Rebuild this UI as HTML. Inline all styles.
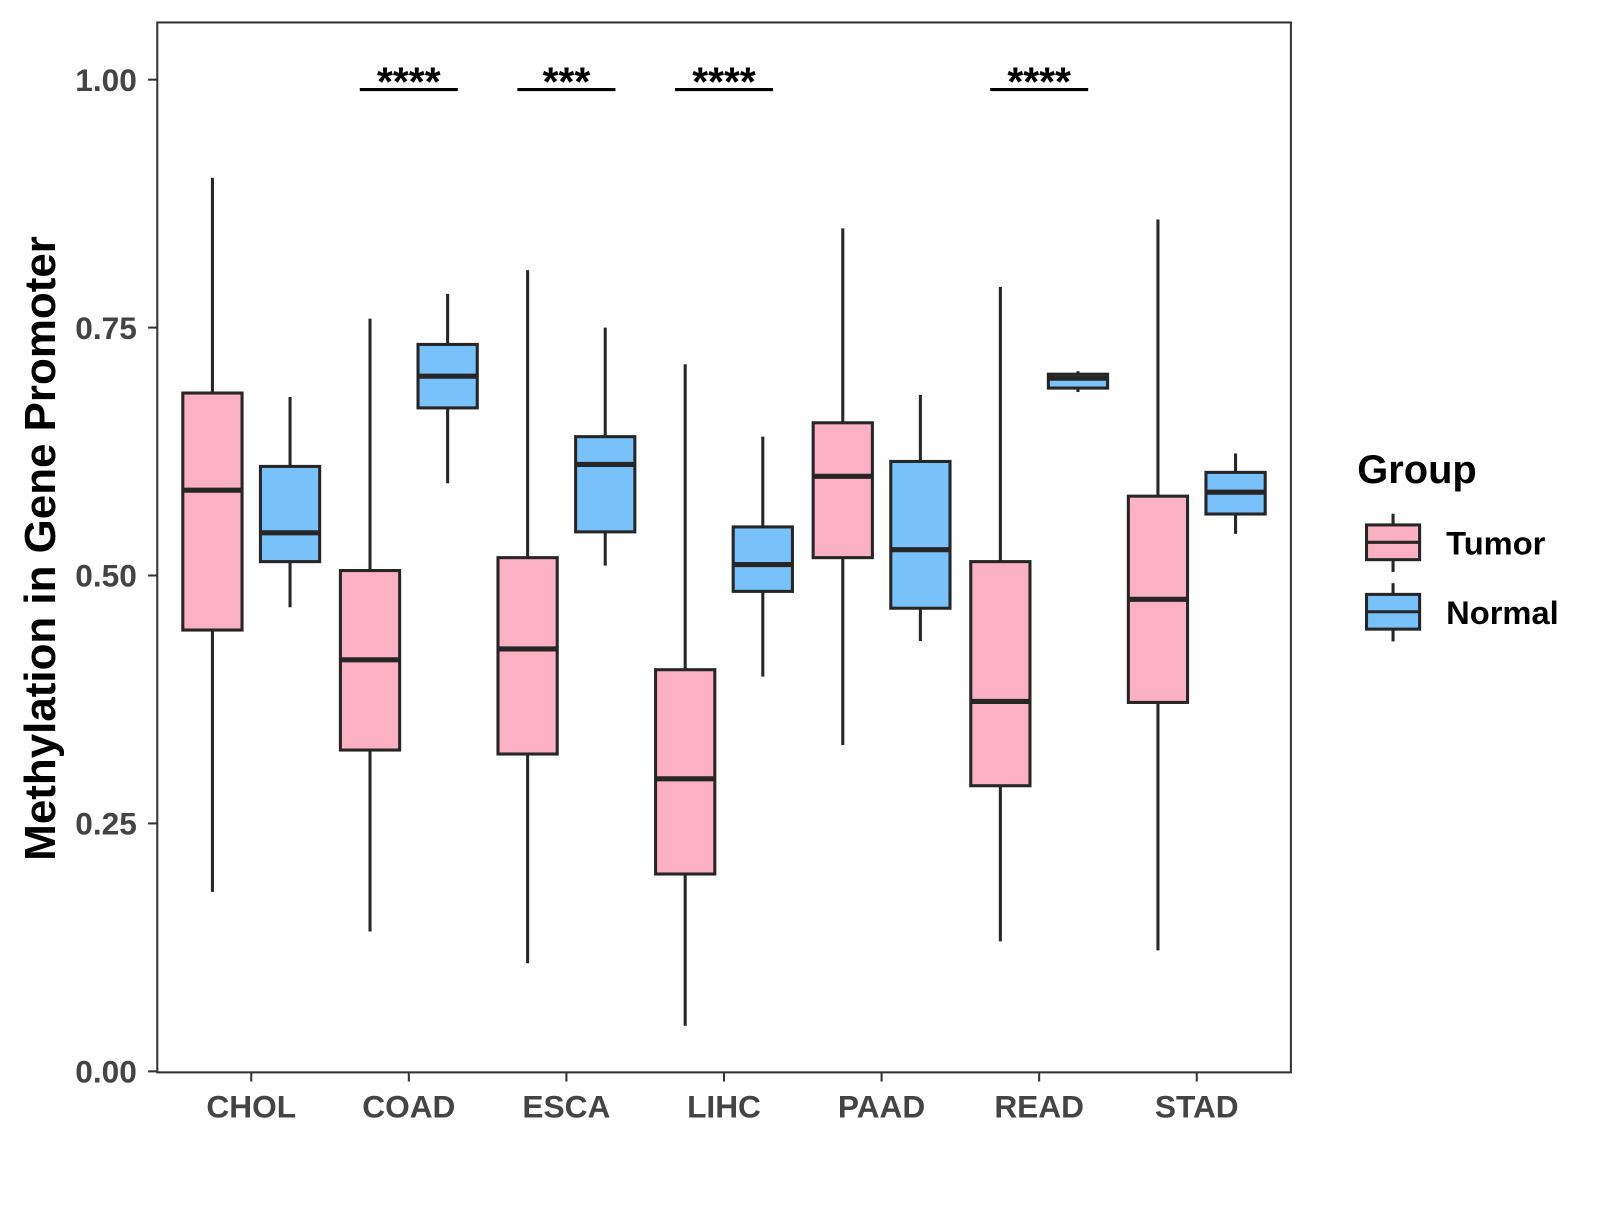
<!DOCTYPE html>
<html><head><meta charset="utf-8"><style>
body{margin:0;background:#fff}
svg text{font-family:"Liberation Sans",Arial,sans-serif;font-weight:bold}
</style></head><body>
<svg id="chart" width="1600" height="1200" viewBox="0 0 1600 1200" xmlns="http://www.w3.org/2000/svg">
<rect x="0" y="0" width="1600" height="1200" fill="#fff"/>
<g transform="scale(1.0213)">
<g id="plot"></g>
<rect x="154" y="22" width="1110" height="1028" fill="none" stroke="#333" stroke-width="2"/>
<text transform="translate(54,537) rotate(-90)" text-anchor="middle" font-size="43" fill="#000">Methylation in Gene Promoter</text>
<g>
<text x="1329" y="473" font-size="39" fill="#000">Group</text>
<g>
<line x1="1364" y1="503" x2="1364" y2="560" stroke="#262626" stroke-width="3"/>
<rect x="1338" y="514" width="52" height="34" fill="#FCB0C3" stroke="#262626" stroke-width="3"/>
<line x1="1338" y1="531" x2="1390" y2="531" stroke="#262626" stroke-width="3"/>
<text x="1416" y="543" font-size="32" fill="#000">Tumor</text></g>
<g>
<line x1="1364" y1="571" x2="1364" y2="628" stroke="#262626" stroke-width="3"/>
<rect x="1338" y="582" width="52" height="34" fill="#78C1FA" stroke="#262626" stroke-width="3"/>
<line x1="1338" y1="599" x2="1390" y2="599" stroke="#262626" stroke-width="3"/>
<text x="1416" y="611" font-size="32" fill="#000">Normal</text></g>
</g>
</g>
</svg>
<script>
const categories=["CHOL","COAD","ESCA","LIHC","PAAD","READ","STAD"];
const tumorStats=[[0.181,0.445,0.586,0.684,0.901],[0.141,0.324,0.415,0.505,0.759],[0.109,0.320,0.426,0.518,0.808],[0.046,0.199,0.295,0.405,0.713],[0.329,0.518,0.600,0.654,0.850],[0.131,0.288,0.373,0.514,0.791],[0.122,0.372,0.476,0.580,0.859]];
const normalStats=[[0.468,0.514,0.543,0.610,0.680],[0.593,0.669,0.701,0.733,0.784],[0.510,0.544,0.612,0.640,0.750],[0.398,0.484,0.511,0.549,0.640],[0.434,0.467,0.526,0.615,0.682],[0.685,0.689,0.699,0.703,0.706],[0.542,0.562,0.584,0.604,0.623]];
const yTicks=[0,0.25,0.5,0.75,1.0];
const yTickLabels=["0.00","0.25","0.50","0.75","1.00"];
const sigLabels=["","****","***","****","","****",""];
const sigY=0.99;
const NS="http://www.w3.org/2000/svg";
const g=document.getElementById('plot');
const yS=v=>1049-v*971;
const xS=i=>246+i*154.3;
function mk(t,a,p){const e=document.createElementNS(NS,t);for(const k in a)e.setAttribute(k,a[k]);(p||g).appendChild(e);return e;}
yTicks.forEach((v,i)=>{
 const t=mk('line',{x1:145,x2:154,y1:yS(v),y2:yS(v),stroke:'#333','stroke-width':2});
 
 
 const l=mk('text',{x:134,y:yS(v)+11,'text-anchor':'end','font-size':31,fill:'#444'});
 l.textContent=yTickLabels[i];
 
 
});
categories.forEach((c,i)=>{
 const x=xS(i);
 const t=mk('line',{x1:x,x2:x,y1:1050,y2:1059,stroke:'#333','stroke-width':2});
 
 
 const l=mk('text',{x:x,y:1094,'text-anchor':'middle','font-size':31,fill:'#444'});
 l.textContent=c;
 
 
 [[tumorStats[i],-38,'#FCB0C3','tumor'],[normalStats[i],38,'#78C1FA','normal']].forEach(([s,off,col,nm])=>{
  const cx=x+off;
  const bg=mk('g',{});
  
  
  mk('line',{x1:cx,x2:cx,y1:yS(s[0]),y2:yS(s[4]),stroke:'#262626','stroke-width':3},bg);
  mk('rect',{x:cx-29,y:yS(s[3]),width:58,height:yS(s[1])-yS(s[3]),fill:col,stroke:'#262626','stroke-width':3},bg);
  mk('line',{x1:cx-29,x2:cx+29,y1:yS(s[2]),y2:yS(s[2]),stroke:'#262626','stroke-width':5},bg);
 });
 if(sigLabels[i]){
  const b=mk('line',{x1:x-48,x2:x+48,y1:yS(sigY),y2:yS(sigY),stroke:'#000','stroke-width':3});
  
  
  const st=mk('text',{x:x,y:yS(sigY)+6,'text-anchor':'middle','font-size':40,fill:'#000'});
  st.textContent=sigLabels[i];
  
  
 }
});
</script>
</body></html>
